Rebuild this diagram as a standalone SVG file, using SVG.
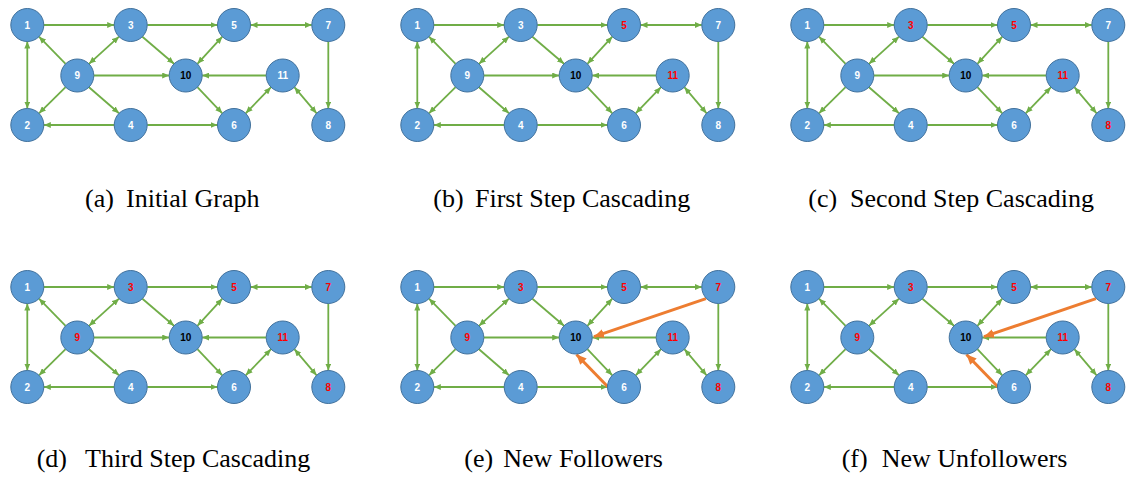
<svg xmlns="http://www.w3.org/2000/svg" width="1127" height="481" viewBox="0 0 1127 481">
<style>
.node circle{fill:#5B9BD5;stroke:#41719C;stroke-width:1}
.node text{font-family:"Liberation Sans",Arial,sans-serif;font-size:10px;font-weight:bold;fill:#FFFFFF;text-anchor:middle}
.node text.red{fill:#FF0000}
.node text.dark{fill:#000000}
.e{stroke:#70AD47;stroke-width:1.8;fill:none;marker-end:url(#ag)}
.bi{marker-start:url(#ag)}
.o{stroke:#ED7D31;stroke-width:3;fill:none;marker-end:url(#ao)}
.cap{font-family:"Liberation Serif","Times New Roman",serif;font-size:26px;fill:#000000}
</style>
<defs>
<marker id="ag" markerUnits="userSpaceOnUse" markerWidth="7" markerHeight="6" refX="7" refY="3" orient="auto-start-reverse"><path d="M0,0 L7,3 L0,6 z" fill="#70AD47"/></marker>
<marker id="ao" markerUnits="userSpaceOnUse" markerWidth="11" markerHeight="9" refX="10" refY="4.5" orient="auto"><path d="M0,0 L10,4.5 L0,9 z" fill="#ED7D31"/></marker>
</defs>
<rect width="1127" height="481" fill="#FFFFFF"/>

<!-- Panel (a) -->
<g id="panel-a" transform="translate(0,0)">
<g id="a-connectors">
<line class="e" x1="43.8" y1="25" x2="114.2" y2="25"/>
<line class="e" x1="147.2" y1="25" x2="217.5" y2="25"/>
<line class="e bi" x1="250.5" y1="25" x2="311.8" y2="25"/>
<line class="e" x1="328.3" y1="41.5" x2="328.3" y2="108.5"/>
<line class="e bi" x1="27.3" y1="41.5" x2="27.3" y2="108.5"/>
<line class="e" x1="65.6" y1="63.8" x2="39" y2="36.7"/>
<line class="e bi" x1="89" y1="63.8" x2="119" y2="36.7"/>
<line class="e" x1="142.4" y1="36.7" x2="174" y2="63.8"/>
<line class="e bi" x1="222.3" y1="36.7" x2="197.4" y2="63.8"/>
<line class="e" x1="93.8" y1="75.5" x2="169.2" y2="75.5"/>
<line class="e" x1="266.2" y1="75.5" x2="202.2" y2="75.5"/>
<line class="e" x1="65.6" y1="87.2" x2="39" y2="113.3"/>
<line class="e" x1="89" y1="87.2" x2="119" y2="113.3"/>
<line class="e" x1="114.2" y1="125" x2="43.8" y2="125"/>
<line class="e" x1="147.2" y1="125" x2="217.5" y2="125"/>
<line class="e" x1="197.4" y1="87.2" x2="222.3" y2="113.3"/>
<line class="e bi" x1="245.7" y1="113.3" x2="271" y2="87.2"/>
<line class="e bi" x1="294.4" y1="87.2" x2="316.6" y2="113.3"/>
</g>
<g id="a-n1" class="node"><circle cx="27.3" cy="25" r="16.5"/><text x="27.3" y="28.6">1</text></g>
<g id="a-n3" class="node"><circle cx="130.7" cy="25" r="16.5"/><text x="130.7" y="28.6">3</text></g>
<g id="a-n5" class="node"><circle cx="234" cy="25" r="16.5"/><text x="234" y="28.6">5</text></g>
<g id="a-n7" class="node"><circle cx="328.3" cy="25" r="16.5"/><text x="328.3" y="28.6">7</text></g>
<g id="a-n9" class="node"><circle cx="77.3" cy="75.5" r="16.5"/><text x="77.3" y="79.1">9</text></g>
<g id="a-n10" class="node"><circle cx="185.7" cy="75.5" r="16.5"/><text class="dark" x="185.7" y="79.1">10</text></g>
<g id="a-n11" class="node"><circle cx="282.7" cy="75.5" r="16.5"/><text x="282.7" y="79.1">11</text></g>
<g id="a-n2" class="node"><circle cx="27.3" cy="125" r="16.5"/><text x="27.3" y="128.6">2</text></g>
<g id="a-n4" class="node"><circle cx="130.7" cy="125" r="16.5"/><text x="130.7" y="128.6">4</text></g>
<g id="a-n6" class="node"><circle cx="234" cy="125" r="16.5"/><text x="234" y="128.6">6</text></g>
<g id="a-n8" class="node"><circle cx="328.3" cy="125" r="16.5"/><text x="328.3" y="128.6">8</text></g>
</g>

<!-- Panel (b) -->
<g id="panel-b" transform="translate(390,0)">
<g id="b-connectors">
<line class="e" x1="43.8" y1="25" x2="114.2" y2="25"/>
<line class="e" x1="147.2" y1="25" x2="217.5" y2="25"/>
<line class="e bi" x1="250.5" y1="25" x2="311.8" y2="25"/>
<line class="e" x1="328.3" y1="41.5" x2="328.3" y2="108.5"/>
<line class="e bi" x1="27.3" y1="41.5" x2="27.3" y2="108.5"/>
<line class="e" x1="65.6" y1="63.8" x2="39" y2="36.7"/>
<line class="e bi" x1="89" y1="63.8" x2="119" y2="36.7"/>
<line class="e" x1="142.4" y1="36.7" x2="174" y2="63.8"/>
<line class="e bi" x1="222.3" y1="36.7" x2="197.4" y2="63.8"/>
<line class="e" x1="93.8" y1="75.5" x2="169.2" y2="75.5"/>
<line class="e" x1="266.2" y1="75.5" x2="202.2" y2="75.5"/>
<line class="e" x1="65.6" y1="87.2" x2="39" y2="113.3"/>
<line class="e" x1="89" y1="87.2" x2="119" y2="113.3"/>
<line class="e" x1="114.2" y1="125" x2="43.8" y2="125"/>
<line class="e" x1="147.2" y1="125" x2="217.5" y2="125"/>
<line class="e" x1="197.4" y1="87.2" x2="222.3" y2="113.3"/>
<line class="e bi" x1="245.7" y1="113.3" x2="271" y2="87.2"/>
<line class="e bi" x1="294.4" y1="87.2" x2="316.6" y2="113.3"/>
</g>
<g id="b-n1" class="node"><circle cx="27.3" cy="25" r="16.5"/><text x="27.3" y="28.6">1</text></g>
<g id="b-n3" class="node"><circle cx="130.7" cy="25" r="16.5"/><text x="130.7" y="28.6">3</text></g>
<g id="b-n5" class="node"><circle cx="234" cy="25" r="16.5"/><text class="red" x="234" y="28.6">5</text></g>
<g id="b-n7" class="node"><circle cx="328.3" cy="25" r="16.5"/><text x="328.3" y="28.6">7</text></g>
<g id="b-n9" class="node"><circle cx="77.3" cy="75.5" r="16.5"/><text x="77.3" y="79.1">9</text></g>
<g id="b-n10" class="node"><circle cx="185.7" cy="75.5" r="16.5"/><text class="dark" x="185.7" y="79.1">10</text></g>
<g id="b-n11" class="node"><circle cx="282.7" cy="75.5" r="16.5"/><text class="red" x="282.7" y="79.1">11</text></g>
<g id="b-n2" class="node"><circle cx="27.3" cy="125" r="16.5"/><text x="27.3" y="128.6">2</text></g>
<g id="b-n4" class="node"><circle cx="130.7" cy="125" r="16.5"/><text x="130.7" y="128.6">4</text></g>
<g id="b-n6" class="node"><circle cx="234" cy="125" r="16.5"/><text x="234" y="128.6">6</text></g>
<g id="b-n8" class="node"><circle cx="328.3" cy="125" r="16.5"/><text x="328.3" y="128.6">8</text></g>
</g>

<!-- Panel (c) -->
<g id="panel-c" transform="translate(780,0)">
<g id="c-connectors">
<line class="e" x1="43.8" y1="25" x2="114.2" y2="25"/>
<line class="e" x1="147.2" y1="25" x2="217.5" y2="25"/>
<line class="e bi" x1="250.5" y1="25" x2="311.8" y2="25"/>
<line class="e" x1="328.3" y1="41.5" x2="328.3" y2="108.5"/>
<line class="e bi" x1="27.3" y1="41.5" x2="27.3" y2="108.5"/>
<line class="e" x1="65.6" y1="63.8" x2="39" y2="36.7"/>
<line class="e bi" x1="89" y1="63.8" x2="119" y2="36.7"/>
<line class="e" x1="142.4" y1="36.7" x2="174" y2="63.8"/>
<line class="e bi" x1="222.3" y1="36.7" x2="197.4" y2="63.8"/>
<line class="e" x1="93.8" y1="75.5" x2="169.2" y2="75.5"/>
<line class="e" x1="266.2" y1="75.5" x2="202.2" y2="75.5"/>
<line class="e" x1="65.6" y1="87.2" x2="39" y2="113.3"/>
<line class="e" x1="89" y1="87.2" x2="119" y2="113.3"/>
<line class="e" x1="114.2" y1="125" x2="43.8" y2="125"/>
<line class="e" x1="147.2" y1="125" x2="217.5" y2="125"/>
<line class="e" x1="197.4" y1="87.2" x2="222.3" y2="113.3"/>
<line class="e bi" x1="245.7" y1="113.3" x2="271" y2="87.2"/>
<line class="e bi" x1="294.4" y1="87.2" x2="316.6" y2="113.3"/>
</g>
<g id="c-n1" class="node"><circle cx="27.3" cy="25" r="16.5"/><text x="27.3" y="28.6">1</text></g>
<g id="c-n3" class="node"><circle cx="130.7" cy="25" r="16.5"/><text class="red" x="130.7" y="28.6">3</text></g>
<g id="c-n5" class="node"><circle cx="234" cy="25" r="16.5"/><text class="red" x="234" y="28.6">5</text></g>
<g id="c-n7" class="node"><circle cx="328.3" cy="25" r="16.5"/><text x="328.3" y="28.6">7</text></g>
<g id="c-n9" class="node"><circle cx="77.3" cy="75.5" r="16.5"/><text x="77.3" y="79.1">9</text></g>
<g id="c-n10" class="node"><circle cx="185.7" cy="75.5" r="16.5"/><text class="dark" x="185.7" y="79.1">10</text></g>
<g id="c-n11" class="node"><circle cx="282.7" cy="75.5" r="16.5"/><text class="red" x="282.7" y="79.1">11</text></g>
<g id="c-n2" class="node"><circle cx="27.3" cy="125" r="16.5"/><text x="27.3" y="128.6">2</text></g>
<g id="c-n4" class="node"><circle cx="130.7" cy="125" r="16.5"/><text x="130.7" y="128.6">4</text></g>
<g id="c-n6" class="node"><circle cx="234" cy="125" r="16.5"/><text x="234" y="128.6">6</text></g>
<g id="c-n8" class="node"><circle cx="328.3" cy="125" r="16.5"/><text class="red" x="328.3" y="128.6">8</text></g>
</g>

<!-- Panel (d) -->
<g id="panel-d" transform="translate(0,262)">
<g id="d-connectors">
<line class="e" x1="43.8" y1="25" x2="114.2" y2="25"/>
<line class="e" x1="147.2" y1="25" x2="217.5" y2="25"/>
<line class="e bi" x1="250.5" y1="25" x2="311.8" y2="25"/>
<line class="e" x1="328.3" y1="41.5" x2="328.3" y2="108.5"/>
<line class="e bi" x1="27.3" y1="41.5" x2="27.3" y2="108.5"/>
<line class="e" x1="65.6" y1="63.8" x2="39" y2="36.7"/>
<line class="e bi" x1="89" y1="63.8" x2="119" y2="36.7"/>
<line class="e" x1="142.4" y1="36.7" x2="174" y2="63.8"/>
<line class="e bi" x1="222.3" y1="36.7" x2="197.4" y2="63.8"/>
<line class="e" x1="93.8" y1="75.5" x2="169.2" y2="75.5"/>
<line class="e" x1="266.2" y1="75.5" x2="202.2" y2="75.5"/>
<line class="e" x1="65.6" y1="87.2" x2="39" y2="113.3"/>
<line class="e" x1="89" y1="87.2" x2="119" y2="113.3"/>
<line class="e" x1="114.2" y1="125" x2="43.8" y2="125"/>
<line class="e" x1="147.2" y1="125" x2="217.5" y2="125"/>
<line class="e" x1="197.4" y1="87.2" x2="222.3" y2="113.3"/>
<line class="e bi" x1="245.7" y1="113.3" x2="271" y2="87.2"/>
<line class="e bi" x1="294.4" y1="87.2" x2="316.6" y2="113.3"/>
</g>
<g id="d-n1" class="node"><circle cx="27.3" cy="25" r="16.5"/><text x="27.3" y="28.6">1</text></g>
<g id="d-n3" class="node"><circle cx="130.7" cy="25" r="16.5"/><text class="red" x="130.7" y="28.6">3</text></g>
<g id="d-n5" class="node"><circle cx="234" cy="25" r="16.5"/><text class="red" x="234" y="28.6">5</text></g>
<g id="d-n7" class="node"><circle cx="328.3" cy="25" r="16.5"/><text class="red" x="328.3" y="28.6">7</text></g>
<g id="d-n9" class="node"><circle cx="77.3" cy="75.5" r="16.5"/><text class="red" x="77.3" y="79.1">9</text></g>
<g id="d-n10" class="node"><circle cx="185.7" cy="75.5" r="16.5"/><text class="dark" x="185.7" y="79.1">10</text></g>
<g id="d-n11" class="node"><circle cx="282.7" cy="75.5" r="16.5"/><text class="red" x="282.7" y="79.1">11</text></g>
<g id="d-n2" class="node"><circle cx="27.3" cy="125" r="16.5"/><text x="27.3" y="128.6">2</text></g>
<g id="d-n4" class="node"><circle cx="130.7" cy="125" r="16.5"/><text x="130.7" y="128.6">4</text></g>
<g id="d-n6" class="node"><circle cx="234" cy="125" r="16.5"/><text x="234" y="128.6">6</text></g>
<g id="d-n8" class="node"><circle cx="328.3" cy="125" r="16.5"/><text class="red" x="328.3" y="128.6">8</text></g>
</g>

<!-- Panel (e) -->
<g id="panel-e" transform="translate(390,262)">
<g id="e-connectors">
<line class="e" x1="43.8" y1="25" x2="114.2" y2="25"/>
<line class="e" x1="147.2" y1="25" x2="217.5" y2="25"/>
<line class="e bi" x1="250.5" y1="25" x2="311.8" y2="25"/>
<line class="e" x1="328.3" y1="41.5" x2="328.3" y2="108.5"/>
<line class="e bi" x1="27.3" y1="41.5" x2="27.3" y2="108.5"/>
<line class="e" x1="65.6" y1="63.8" x2="39" y2="36.7"/>
<line class="e bi" x1="89" y1="63.8" x2="119" y2="36.7"/>
<line class="e" x1="142.4" y1="36.7" x2="174" y2="63.8"/>
<line class="e bi" x1="222.3" y1="36.7" x2="197.4" y2="63.8"/>
<line class="e" x1="93.8" y1="75.5" x2="169.2" y2="75.5"/>
<line class="e" x1="266.2" y1="75.5" x2="202.2" y2="75.5"/>
<line class="e" x1="65.6" y1="87.2" x2="39" y2="113.3"/>
<line class="e" x1="89" y1="87.2" x2="119" y2="113.3"/>
<line class="e" x1="114.2" y1="125" x2="43.8" y2="125"/>
<line class="e" x1="147.2" y1="125" x2="217.5" y2="125"/>
<line class="e" x1="197.4" y1="87.2" x2="222.3" y2="113.3"/>
<line class="e bi" x1="245.7" y1="113.3" x2="271" y2="87.2"/>
<line class="e bi" x1="294.4" y1="87.2" x2="316.6" y2="113.3"/>
<line class="o" x1="316" y1="36.7" x2="204" y2="74.7"/>
<line class="o" x1="217.8" y1="124.7" x2="186.5" y2="92.5"/>
</g>
<g id="e-n1" class="node"><circle cx="27.3" cy="25" r="16.5"/><text x="27.3" y="28.6">1</text></g>
<g id="e-n3" class="node"><circle cx="130.7" cy="25" r="16.5"/><text class="red" x="130.7" y="28.6">3</text></g>
<g id="e-n5" class="node"><circle cx="234" cy="25" r="16.5"/><text class="red" x="234" y="28.6">5</text></g>
<g id="e-n7" class="node"><circle cx="328.3" cy="25" r="16.5"/><text class="red" x="328.3" y="28.6">7</text></g>
<g id="e-n9" class="node"><circle cx="77.3" cy="75.5" r="16.5"/><text class="red" x="77.3" y="79.1">9</text></g>
<g id="e-n10" class="node"><circle cx="185.7" cy="75.5" r="16.5"/><text class="dark" x="185.7" y="79.1">10</text></g>
<g id="e-n11" class="node"><circle cx="282.7" cy="75.5" r="16.5"/><text class="red" x="282.7" y="79.1">11</text></g>
<g id="e-n2" class="node"><circle cx="27.3" cy="125" r="16.5"/><text x="27.3" y="128.6">2</text></g>
<g id="e-n4" class="node"><circle cx="130.7" cy="125" r="16.5"/><text x="130.7" y="128.6">4</text></g>
<g id="e-n6" class="node"><circle cx="234" cy="125" r="16.5"/><text x="234" y="128.6">6</text></g>
<g id="e-n8" class="node"><circle cx="328.3" cy="125" r="16.5"/><text class="red" x="328.3" y="128.6">8</text></g>
</g>

<!-- Panel (f) -->
<g id="panel-f" transform="translate(780,262)">
<g id="f-connectors">
<line class="e" x1="43.8" y1="25" x2="114.2" y2="25"/>
<line class="e" x1="147.2" y1="25" x2="217.5" y2="25"/>
<line class="e bi" x1="250.5" y1="25" x2="311.8" y2="25"/>
<line class="e" x1="328.3" y1="41.5" x2="328.3" y2="108.5"/>
<line class="e bi" x1="27.3" y1="41.5" x2="27.3" y2="108.5"/>
<line class="e" x1="65.6" y1="63.8" x2="39" y2="36.7"/>
<line class="e bi" x1="89" y1="63.8" x2="119" y2="36.7"/>
<line class="e" x1="142.4" y1="36.7" x2="174" y2="63.8"/>
<line class="e bi" x1="222.3" y1="36.7" x2="197.4" y2="63.8"/>
<line class="e" x1="266.2" y1="75.5" x2="202.2" y2="75.5"/>
<line class="e" x1="65.6" y1="87.2" x2="39" y2="113.3"/>
<line class="e" x1="89" y1="87.2" x2="119" y2="113.3"/>
<line class="e" x1="114.2" y1="125" x2="43.8" y2="125"/>
<line class="e" x1="147.2" y1="125" x2="217.5" y2="125"/>
<line class="e" x1="197.4" y1="87.2" x2="222.3" y2="113.3"/>
<line class="e bi" x1="245.7" y1="113.3" x2="271" y2="87.2"/>
<line class="e bi" x1="294.4" y1="87.2" x2="316.6" y2="113.3"/>
<line class="o" x1="316" y1="36.7" x2="204" y2="74.7"/>
<line class="o" x1="217.8" y1="124.7" x2="186.5" y2="92.5"/>
</g>
<g id="f-n1" class="node"><circle cx="27.3" cy="25" r="16.5"/><text x="27.3" y="28.6">1</text></g>
<g id="f-n3" class="node"><circle cx="130.7" cy="25" r="16.5"/><text class="red" x="130.7" y="28.6">3</text></g>
<g id="f-n5" class="node"><circle cx="234" cy="25" r="16.5"/><text class="red" x="234" y="28.6">5</text></g>
<g id="f-n7" class="node"><circle cx="328.3" cy="25" r="16.5"/><text class="red" x="328.3" y="28.6">7</text></g>
<g id="f-n9" class="node"><circle cx="77.3" cy="75.5" r="16.5"/><text class="red" x="77.3" y="79.1">9</text></g>
<g id="f-n10" class="node"><circle cx="185.7" cy="75.5" r="16.5"/><text class="dark" x="185.7" y="79.1">10</text></g>
<g id="f-n11" class="node"><circle cx="282.7" cy="75.5" r="16.5"/><text class="red" x="282.7" y="79.1">11</text></g>
<g id="f-n2" class="node"><circle cx="27.3" cy="125" r="16.5"/><text x="27.3" y="128.6">2</text></g>
<g id="f-n4" class="node"><circle cx="130.7" cy="125" r="16.5"/><text x="130.7" y="128.6">4</text></g>
<g id="f-n6" class="node"><circle cx="234" cy="125" r="16.5"/><text x="234" y="128.6">6</text></g>
<g id="f-n8" class="node"><circle cx="328.3" cy="125" r="16.5"/><text class="red" x="328.3" y="128.6">8</text></g>
</g>

<!-- Captions -->
<g id="captions">
<text class="cap" y="207"><tspan x="85">(a)</tspan><tspan x="126">Initial Graph</tspan></text>
<text class="cap" y="207"><tspan x="433.3">(b)</tspan><tspan x="475">First Step Cascading</tspan></text>
<text class="cap" y="207"><tspan x="808.3">(c)</tspan><tspan x="850">Second Step Cascading</tspan></text>
<text class="cap" y="467"><tspan x="36.7">(d)</tspan><tspan x="85">Third Step Cascading</tspan></text>
<text class="cap" y="467"><tspan x="464.3">(e)</tspan><tspan x="503.3">New Followers</tspan></text>
<text class="cap" y="467"><tspan x="841.7">(f)</tspan><tspan x="881.7">New Unfollowers</tspan></text>
</g>
</svg>
